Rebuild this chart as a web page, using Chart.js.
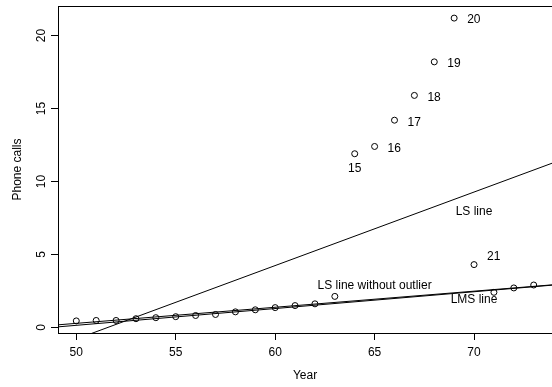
<!DOCTYPE html>
<html><head><meta charset="utf-8">
<script src="https://cdn.jsdelivr.net/npm/chart.js@4/dist/chart.umd.min.js"></script>
<style>html,body{margin:0;padding:0;background:#fff}#wrap{width:552px;height:387px}</style>
</head><body><div id="wrap"><canvas id="c" width="552" height="387"></canvas></div>
<script>
const years = [50,51,52,53,54,55,56,57,58,59,60,61,62,63,64,65,66,67,68,69,70,71,72,73];
const calls = [0.44,0.47,0.47,0.59,0.66,0.73,0.81,0.88,1.06,1.20,1.35,1.49,1.61,2.12,11.90,12.40,14.20,15.90,18.20,21.20,4.30,2.40,2.70,2.90];
const pointLabels = ['','','','','','','','','','','','','','','15','16','17','18','19','20','21','','',''];
const lsLineX = [49.08, 73.92];
const lsLineY = [-1.27, 11.25];
const lsNoOutlierX = [49.08, 73.92];
const lsNoOutlierY = [0.17, 2.91];
const lmsLineX = [49.08, 73.92];
const lmsLineY = [0.03, 2.89];
const xTicks = [50,55,60,65,70];
const yTicks = [0,5,10,15,20];
const lineNames = ['LS line','LS line without outlier','LMS line'];
const lineNameAt = [[70,7.9],[65,2.84],[70,1.86]];

const FONT = '"Liberation Sans", Arial, Helvetica, sans-serif';
const pts = years.map((x,i)=>({x, y: calls[i]}));
const seg = (xs, ys) => xs.map((x,i)=>({x, y: ys[i]}));

const extras = {
  id: 'extras',
  afterDraw(chart){
    const {ctx, chartArea:a, scales:{x, y}} = chart;
    ctx.save();
    ctx.strokeStyle = '#000'; ctx.lineWidth = 1;
    ctx.beginPath(); ctx.moveTo(a.left, a.top + 0.5); ctx.lineTo(a.right, a.top + 0.5); ctx.stroke();
    ctx.font = '12px ' + FONT; ctx.fillStyle = '#000';
    ctx.textBaseline = 'middle'; ctx.textAlign = 'center';
    yTicks.forEach(v => {
      const py = y.getPixelForValue(v);
      ctx.save(); ctx.translate(42, py); ctx.rotate(-Math.PI/2); ctx.fillText(String(v), 0, 0); ctx.restore();
    });
    ctx.save(); ctx.translate(18, (a.top + a.bottom)/2); ctx.rotate(-Math.PI/2); ctx.fillText('Phone calls', 0, 0); ctx.restore();
    ctx.fillText('Year', x.getPixelForValue(61.5), 376);
    pointLabels.forEach((lab, i) => {
      if (!lab) return;
      const px = x.getPixelForValue(years[i]), py = y.getPixelForValue(calls[i]);
      if (lab === '15') { ctx.textAlign = 'center'; ctx.fillText(lab, px, py + 15); }
      else if (lab === '21') { ctx.textAlign = 'left'; ctx.fillText(lab, px + 13, py - 8); }
      else { ctx.textAlign = 'left'; ctx.fillText(lab, px + 13, py + 2); }
    });
    ctx.textAlign = 'center';
    lineNames.forEach((t, i) => {
      ctx.fillText(t, x.getPixelForValue(lineNameAt[i][0]), y.getPixelForValue(lineNameAt[i][1]));
    });
    ctx.restore();
  }
};

const lineDs = (data) => ({type:'line', data, borderColor:'#000', borderWidth:1, pointRadius:0, fill:false, tension:0});

new Chart(document.getElementById('c'), {
  type: 'scatter',
  data: {
    datasets: [
      {data: pts, pointRadius: 3, pointHoverRadius: 3, pointBorderWidth: 1, borderColor:'#000', pointBorderColor:'#000', pointBackgroundColor:'rgba(0,0,0,0)', showLine:false},
      lineDs(seg(lsLineX, lsLineY)),
      lineDs(seg(lsNoOutlierX, lsNoOutlierY)),
      lineDs(seg(lmsLineX, lmsLineY))
    ]
  },
  options: {
    responsive: false, animation: false, devicePixelRatio: 1,
    layout: {autoPadding: false, padding: {top: 6, right: 0, left: 0, bottom: 0}},
    plugins: {legend: {display: false}, tooltip: {enabled: false}},
    scales: {
      x: {
        type: 'linear', min: 49.08, max: 73.92, position: 'bottom',
        afterBuildTicks: s => { s.ticks = xTicks.map(v => ({value: v})); },
        afterFit: s => { s.height = 54; s.paddingLeft = 0; s.paddingRight = 0; },
        grid: {drawOnChartArea: false, drawTicks: true, tickLength: 7, color: '#000', lineWidth: 1},
        border: {display: true, color: '#000', width: 1},
        ticks: {font: {size: 12, family: FONT}, color: '#000', padding: 5, maxRotation: 0, autoSkip: false}
      },
      y: {
        type: 'linear', min: -0.39, max: 22.03,
        afterBuildTicks: s => { s.ticks = yTicks.map(v => ({value: v})); },
        afterFit: s => { s.width = 58; s.paddingTop = 0; s.paddingBottom = 0; },
        grid: {drawOnChartArea: false, drawTicks: true, tickLength: 7, color: '#000', lineWidth: 1},
        border: {display: true, color: '#000', width: 1},
        ticks: {display: false}
      }
    }
  },
  plugins: [extras]
});
</script></body></html>
